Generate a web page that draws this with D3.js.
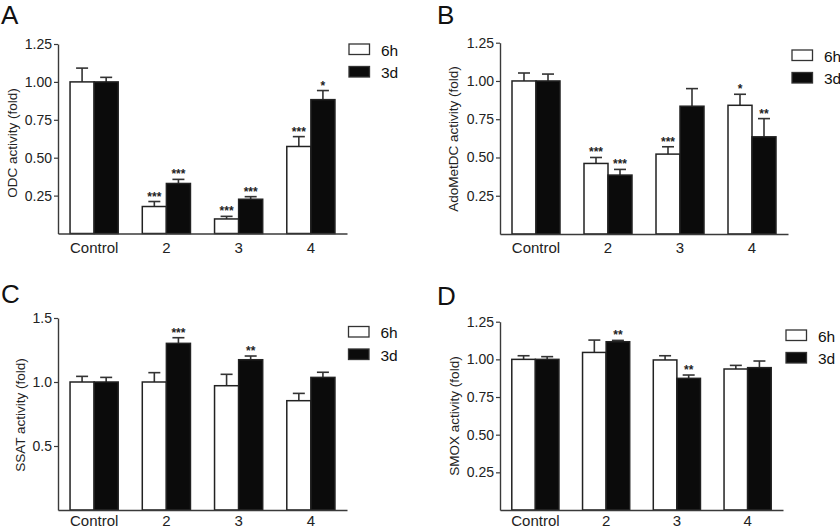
<!DOCTYPE html>
<html><head><meta charset="utf-8">
<script src="https://cdn.jsdelivr.net/npm/d3@7"></script>
<style>
body{margin:0;background:#fff;}
svg{display:block;font-family:"Liberation Sans",Arial,sans-serif;}
</style></head>
<body><svg id="c" width="840" height="530"></svg>
<script>
// ---- data ----
const categories = ["Control", "2", "3", "4"];
const series = ["6h", "3d"];

const odc6h = [1.00, 0.178, 0.096, 0.574];
const odc6hErr = [0.091, 0.033, 0.017, 0.065];
const odc3d = [1.00, 0.330, 0.226, 0.883];
const odc3dErr = [0.030, 0.027, 0.017, 0.060];
const odc6hSig = ["", "***", "***", "***"];
const odc3dSig = ["", "***", "***", "*"];

const amd6h = [1.00, 0.461, 0.522, 0.841];
const amd6hErr = [0.052, 0.039, 0.048, 0.072];
const amd3d = [1.00, 0.385, 0.835, 0.635];
const amd3dErr = [0.045, 0.037, 0.115, 0.119];
const amd6hSig = ["", "***", "***", "*"];
const amd3dSig = ["", "***", "", "**"];

const ssat6h = [1.00, 1.00, 0.971, 0.854];
const ssat6hErr = [0.044, 0.073, 0.089, 0.057];
const ssat3d = [1.00, 1.302, 1.174, 1.036];
const ssat3dErr = [0.036, 0.044, 0.029, 0.040];
const ssat6hSig = ["", "", "", ""];
const ssat3dSig = ["", "***", "**", ""];

const smox6h = [1.00, 1.046, 0.996, 0.936];
const smox6hErr = [0.024, 0.082, 0.028, 0.024];
const smox3d = [1.00, 1.117, 0.874, 0.945];
const smox3dErr = [0.018, 0.009, 0.022, 0.044];
const smox6hSig = ["", "", "", ""];
const smox3dSig = ["", "**", "**", ""];

const ticks025 = [0.25, 0.50, 0.75, 1.00, 1.25];
const ticks05 = [0.5, 1.0, 1.5];

// ---- layout ----
const panels = [
  {letter:"A", lx:1, ly:24, title:"ODC activity (fold)", tx:16.5, ty:143,
   x0:58, x1:347, y0:233.5, yTop:44, yMax:1.25, ticks:ticks025, fmt:".2f",
   v:[odc6h, odc3d], e:[odc6hErr, odc3dErr], s:[odc6hSig, odc3dSig], labY:253,
   legX:349, legY:44},
  {letter:"B", lx:437, ly:24, title:"AdoMetDC activity (fold)", tx:458, ty:139,
   x0:500, x1:788, y0:234, yTop:42.7, yMax:1.25, ticks:ticks025, fmt:".2f",
   v:[amd6h, amd3d], e:[amd6hErr, amd3dErr], s:[amd6hSig, amd3dSig], labY:253,
   legX:792, legY:50},
  {letter:"C", lx:1, ly:303, title:"SSAT activity (fold)", tx:24.5, ty:415,
   x0:58, x1:347, y0:510, yTop:318, yMax:1.5, ticks:ticks05, fmt:".1f",
   v:[ssat6h, ssat3d], e:[ssat6hErr, ssat3dErr], s:[ssat6hSig, ssat3dSig], labY:526.3,
   legX:348.5, legY:326.5},
  {letter:"D", lx:437, ly:305, title:"SMOX activity (fold)", tx:459, ty:416,
   x0:500, x1:783, y0:510, yTop:321.7, yMax:1.25, ticks:ticks025, fmt:".2f",
   v:[smox6h, smox3d], e:[smox6hErr, smox3dErr], s:[smox6hSig, smox3dSig], labY:526.3,
   legX:786, legY:330}
];

const svg = d3.select("#c");
const fills = ["#ffffff", "#0b0b0b"];
const axisColor = "#3a3a3a";

panels.forEach(p => {
  const g = svg.append("g");
  const x = d3.scaleBand().domain(categories).range([p.x0, p.x1]).paddingInner(1/3).paddingOuter(1/6);
  const xs = d3.scaleBand().domain(series).range([0, x.bandwidth()]);
  const y = d3.scaleLinear().domain([0, p.yMax]).range([p.y0, p.yTop]);

  // panel letter
  g.append("text").attr("x", p.lx).attr("y", p.ly).attr("font-size", 26).attr("fill", "#111").text(p.letter);

  // y title
  g.append("text").attr("transform", `translate(${p.tx},${p.ty}) rotate(-90)`)
    .attr("text-anchor", "middle").attr("font-size", 13.5).attr("fill", "#222").text(p.title);

  // bars
  series.forEach((sName, si) => {
    const vals = p.v[si], errs = p.e[si], sig = p.s[si];
    const bx = c => x(c) + xs(sName);
    const w = xs.bandwidth();
    // error bars
    categories.forEach((c, i) => {
      const cx = bx(c) + w / 2;
      const top = y(vals[i] + errs[i]);
      g.append("line").attr("x1", cx).attr("x2", cx).attr("y1", y(vals[i])).attr("y2", top)
        .attr("stroke", "#333").attr("stroke-width", 1.6);
      g.append("line").attr("x1", cx - 6).attr("x2", cx + 6).attr("y1", top).attr("y2", top)
        .attr("stroke", "#333").attr("stroke-width", 1.6);
      if (sig[i]) {
        g.append("text").attr("x", cx).attr("y", top - 1).attr("text-anchor", "middle")
          .attr("font-size", 12).attr("font-weight", "bold").attr("fill", "#222").text(sig[i]);
      }
    });
    g.selectAll(null).data(categories).enter().append("rect")
      .attr("x", c => bx(c)).attr("width", w)
      .attr("y", (c, i) => y(vals[i])).attr("height", (c, i) => y(0) - y(vals[i]))
      .attr("fill", fills[si]).attr("stroke", "#222").attr("stroke-width", 1.5);
  });

  // y axis
  const ya = g.append("g").attr("transform", `translate(${p.x0},0)`)
    .call(d3.axisLeft(y).tickValues(p.ticks).tickFormat(d3.format(p.fmt)).tickSize(4).tickSizeOuter(0).tickPadding(2));
  ya.select(".domain").attr("stroke", axisColor).attr("stroke-width", 1.4);
  ya.selectAll(".tick line").attr("stroke", axisColor).attr("stroke-width", 1.2);
  ya.selectAll(".tick text").attr("font-size", 14).attr("fill", "#222")
    .attr("font-family", "Liberation Sans, Arial, sans-serif");

  // x axis
  const xa = g.append("g").attr("transform", `translate(0,${p.y0})`)
    .call(d3.axisBottom(x).tickSize(0).tickSizeOuter(0).tickPadding(p.labY - p.y0 - 10.6));
  xa.select(".domain").attr("stroke", axisColor).attr("stroke-width", 1.4);
  xa.selectAll(".tick text").attr("font-size", 15).attr("fill", "#222")
    .attr("font-family", "Liberation Sans, Arial, sans-serif");

  // legend
  series.forEach((sName, si) => {
    const ly = p.legY + si * 22.5;
    g.append("rect").attr("x", p.legX).attr("y", ly).attr("width", 20.5).attr("height", 10.5)
      .attr("fill", fills[si]).attr("stroke", "#333").attr("stroke-width", 1.3);
    g.append("text").attr("x", p.legX + 32).attr("y", ly + 11.5).attr("font-size", 15.5)
      .attr("fill", "#111").text(sName);
  });
});
</script></body></html>
